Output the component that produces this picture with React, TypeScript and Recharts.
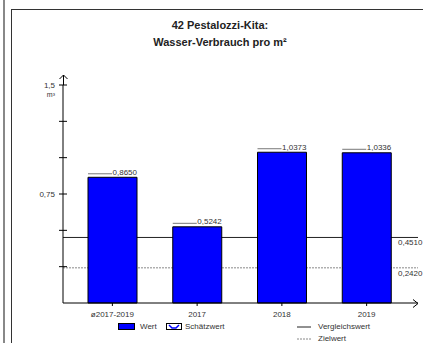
import React from 'react';
import {
  ComposedChart,
  Bar,
  XAxis,
  YAxis,
  ReferenceLine,
  LabelList,
  Legend
} from 'recharts';

// chart data
const categories = ['ø2017-2019', '2017', '2018', '2019'];
const values = [0.865, 0.5242, 1.0373, 1.0336];
const compareValue = 0.451; // Vergleichswert
const targetValue = 0.242; // Zielwert
const yTicks = [0.25, 0.5, 0.75, 1, 1.25, 1.5];
const yTickLabels: Record<number, string> = { 0.75: '0,75', 1.5: '1,5' };

const data = categories.map((name, i) => ({ name, value: values[i] }));

const W = 423;
const H = 343;
const PLOT_LEFT = 63;
const PLOT_TOP = 85;
const PLOT_RIGHT = 418;
const PLOT_BOTTOM = 303;

const FONT = '"Liberation Sans", Arial, Helvetica, sans-serif';
const TEXT = '#333';

const fmt = (v: number) => v.toFixed(4).replace('.', ',');

const YTick = (props: any) => {
  const { x, y, payload } = props;
  const label = yTickLabels[payload.value];
  return (
    <g>
      <line x1={x - 4} x2={x + 4} y1={y} y2={y} stroke="#000" />
      {label && (
        <text x={x - 8} y={y + 3} textAnchor="end" fontSize={8} fill={TEXT} fontFamily={FONT}>
          {label}
        </text>
      )}
      {payload.value === 1.5 && (
        <text x={x - 8} y={y + 12} textAnchor="end" fontSize={7} fill={TEXT} fontFamily={FONT}>
          m³
        </text>
      )}
    </g>
  );
};

const XTick = (props: any) => {
  const { x, y, payload } = props;
  return (
    <text x={x} y={y + 11} textAnchor="middle" fontSize={8} fill={TEXT} fontFamily={FONT}>
      {payload.value}
    </text>
  );
};

const BarValueLabel = (props: any) => {
  const { x, y, width, value } = props;
  return (
    <g>
      <line x1={x} x2={x + width - 25} y1={y - 3.5} y2={y - 3.5} stroke="#777" />
      <text x={x + width} y={y - 2.5} textAnchor="end" fontSize={8} fill={TEXT} fontFamily={FONT}>
        {fmt(value)}
      </text>
    </g>
  );
};

// value labels of the reference lines, right of the last bar
const refLabel = (value: number) => (props: any) => {
  const { viewBox } = props;
  return (
    <text
      x={viewBox.x + viewBox.width - 20}
      y={viewBox.y + 8}
      fontSize={8}
      fill={TEXT}
      fontFamily={FONT}
    >
      {fmt(value)}
    </text>
  );
};

const LegendContent = () => {
  const txt = { position: 'absolute' as const, fontSize: 8, color: TEXT, fontFamily: FONT, lineHeight: '10px' };
  return (
    <div style={{ position: 'relative', width: W, height: 25 }}>
      <svg width={W} height={25} style={{ position: 'absolute', left: 0, top: 0 }}>
        <rect x={118.5} y={5.5} width={16} height={6} fill="#0000ff" stroke="#000" />
        <rect x={166.5} y={5.5} width={15} height={6} fill="#fff" stroke="#000" />
        <path d="M169 7 L172 10 L176 10 L179 7" fill="none" stroke="#0000ff" strokeWidth={1.5} />
        <line x1={297} x2={311} y1={9} y2={9} stroke="#222" />
        <line x1={297} x2={311} y1={21} y2={21} stroke="#888" strokeDasharray="2 1" />
      </svg>
      <span style={{ ...txt, left: 140, top: 4 }}>Wert</span>
      <span style={{ ...txt, left: 185, top: 4 }}>Schätzwert</span>
      <span style={{ ...txt, left: 318, top: 4 }}>Vergleichswert</span>
      <span style={{ ...txt, left: 318, top: 16 }}>Zielwert</span>
    </div>
  );
};

const App: React.FC = () => {
  return (
    <div
      style={{
        position: 'absolute',
        left: 0,
        top: 0,
        width: W,
        height: H,
        overflow: 'hidden',
        background: '#fff',
        fontFamily: FONT
      }}
    >
      {/* frame */}
      <div style={{ position: 'absolute', left: 3, top: 0, width: 2, height: H, background: '#888' }} />
      <div style={{ position: 'absolute', left: 11, top: 9, width: W, height: H, borderLeft: '1.5px solid #333', borderTop: '1.5px solid #333' }} />

      {/* title */}
      <div
        style={{
          position: 'absolute',
          left: 20,
          width: 400,
          top: 17,
          textAlign: 'center',
          fontWeight: 'bold',
          fontSize: 11,
          lineHeight: '17px',
          color: '#222'
        }}
      >
        42 Pestalozzi-Kita:
        <br />
        Wasser-Verbrauch pro m²
      </div>

      <div style={{ position: 'absolute', left: 0, top: 0 }}>
        <ComposedChart
          width={W}
          height={H}
          data={data}
          margin={{ top: PLOT_TOP, right: W - PLOT_RIGHT, left: 0, bottom: 0 }}
        >
          <XAxis
            dataKey="name"
            height={H - PLOT_BOTTOM}
            padding={{ left: 7, right: 9 }}
            stroke="#000"
            tickSize={3}
            tickMargin={0}
            tick={<XTick />}
            interval={0}
          />
          <YAxis
            width={PLOT_LEFT}
            domain={[0, 1.5]}
            ticks={yTicks}
            stroke="#000"
            tickLine={false}
            tickSize={0}
            tickMargin={0}
            tick={<YTick />}
            interval={0}
          />
          <ReferenceLine y={compareValue} stroke="#222" zIndex={100} label={refLabel(compareValue)} />
          <ReferenceLine
            y={targetValue}
            stroke="#888"
            strokeDasharray="2 1"
            zIndex={100}
            label={refLabel(targetValue)}
          />
          <Bar dataKey="value" fill="#0000ff" stroke="#000" strokeWidth={1} barSize={49} isAnimationActive={false}>
            <LabelList dataKey="value" content={<BarValueLabel />} />
          </Bar>
          <Legend
            verticalAlign="middle"
            align="center"
            layout="horizontal"
            content={<LegendContent />}
            wrapperStyle={{ top: 318, left: 0, width: W, height: 25 }}
          />
        </ComposedChart>
      </div>

      {/* axis arrows */}
      <svg width={W} height={H} style={{ position: 'absolute', left: 0, top: 0, pointerEvents: 'none' }}>
        <line x1={PLOT_LEFT + 0.5} x2={PLOT_LEFT + 0.5} y1={PLOT_TOP} y2={PLOT_TOP - 10} stroke="#000" />
        <polyline
          points={`${PLOT_LEFT - 3.5},${PLOT_TOP - 6} ${PLOT_LEFT + 0.5},${PLOT_TOP - 10} ${PLOT_LEFT + 4.5},${PLOT_TOP - 6}`}
          fill="none"
          stroke="#000"
        />
        <polyline
          points={`${PLOT_RIGHT - 5},${PLOT_BOTTOM - 3.5} ${PLOT_RIGHT},${PLOT_BOTTOM + 0.5} ${PLOT_RIGHT - 5},${PLOT_BOTTOM + 4.5}`}
          fill="none"
          stroke="#000"
        />
      </svg>
    </div>
  );
};

export default App;
